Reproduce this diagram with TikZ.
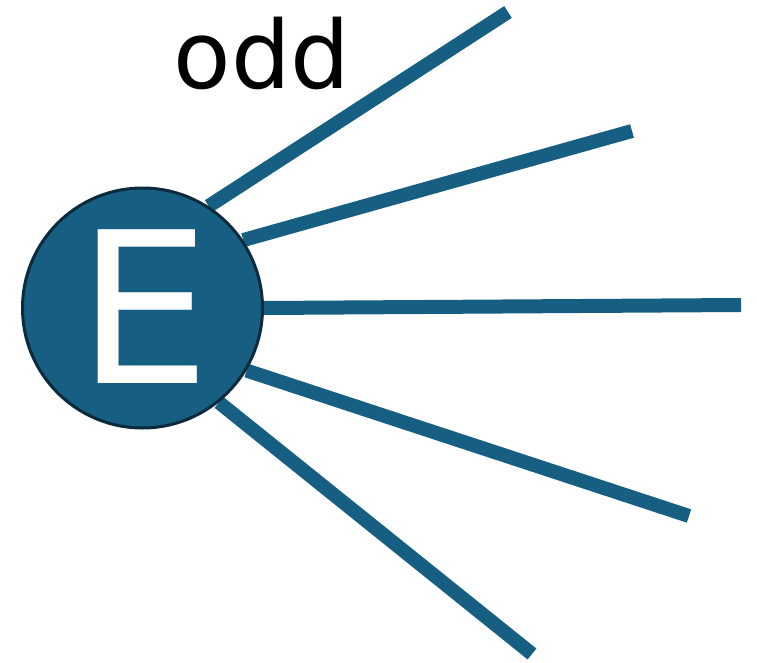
\documentclass[tikz,border=0pt]{standalone}
\usepackage{fontspec}
\setmainfont{DejaVu Sans}
\usetikzlibrary{backgrounds}
\definecolor{petrol}{HTML}{165F82}
\definecolor{petroldark}{HTML}{0B2A3C}
\begin{document}
\begin{tikzpicture}[x=1pt,y=-1pt,line cap=butt,
  spoke/.style={draw=petrol,line width=14pt},
  ball/.style={circle,fill=petrol,draw=petroldark,line width=3pt,minimum size=240pt,inner sep=0pt}]
			\useasboundingbox (0,0) rectangle (757,663);
			\node[ball] (E) at (142.5,308) {};
			\node[text=white,inner sep=0pt,font=\fontsize{211}{211}\selectfont] (Elabel) at (144,307) {E};
			\node[inner sep=0pt,anchor=base,font=\fontsize{94}{94}\selectfont] (odd) at (262,89) {odd};
			\coordinate (t1) at (508,12);
			\coordinate (t2) at (632,131);
			\coordinate (t3) at (741,305);
			\coordinate (t4) at (689,516);
			\coordinate (t5) at (532,654);
			\begin{scope}[on background layer]
			\foreach \a/\t in {57/t1,34/t2,0/t3,-31/t4,-51/t5}
			\draw[spoke] (E.\a) -- (\t);
			\end{scope}
		\end{tikzpicture}
\end{document}
